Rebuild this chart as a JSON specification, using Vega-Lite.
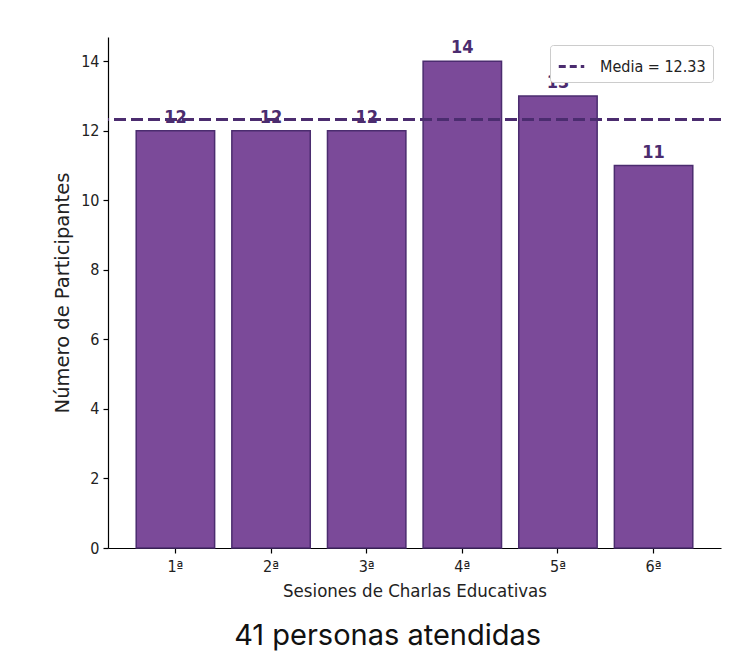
{
  "$schema": "https://vega.github.io/schema/vega-lite/v6.json",
  "width": 613,
  "height": 511,
  "autosize": {"type": "none"},
  "padding": {"left": 108, "top": 37, "right": 19, "bottom": 114},
  "background": "white",
  "title": {
    "text": "41 personas atendidas",
    "orient": "bottom",
    "anchor": "middle",
    "frame": "bounds",
    "font": "Inter",
    "fontSize": 29,
    "fontWeight": "normal",
    "color": "#111111",
    "offset": 22
  },
  "config": {
    "view": {"stroke": null},
    "axis": {
      "domainColor": "#000000",
      "tickColor": "#000000",
      "domainWidth": 1.2,
      "tickWidth": 1.2,
      "tickSize": 5,
      "grid": false,
      "labelFont": "DejaVu Sans Condensed, DejaVu Sans",
      "labelFontSize": 16,
      "labelColor": "#222222",
      "titleFont": "DejaVu Sans Condensed, DejaVu Sans",
      "titleFontWeight": "normal",
      "titleColor": "#222222"
    }
  },
  "layer": [
    {
      "data": {
        "values": [
          {"sesion": "1ª", "participantes": 12},
          {"sesion": "2ª", "participantes": 12},
          {"sesion": "3ª", "participantes": 12},
          {"sesion": "4ª", "participantes": 14},
          {"sesion": "5ª", "participantes": 13},
          {"sesion": "6ª", "participantes": 11}
        ]
      },
      "layer": [
        {
          "mark": {"type": "bar", "color": "#7B4A99", "stroke": "#4B2C6F", "strokeWidth": 1.5},
          "encoding": {
            "x": {
              "field": "sesion",
              "type": "nominal",
              "sort": null,
              "scale": {"paddingInner": 0.18, "paddingOuter": 0.295},
              "axis": {"title": "Sesiones de Charlas Educativas", "labelAngle": 0, "labelPadding": 5, "titleFontSize": 18.5, "titlePadding": 7}
            },
            "y": {
              "field": "participantes",
              "type": "quantitative",
              "scale": {"domain": [0, 14.7], "nice": false},
              "axis": {"title": "Número de Participantes", "values": [0, 2, 4, 6, 8, 10, 12, 14], "titleFontSize": 19.5, "titleFont": "DejaVu Sans", "labelPadding": 4, "titlePadding": 8}
            }
          }
        },
        {
          "mark": {"type": "text", "fontWeight": "bold", "fontSize": 18, "color": "#4B2C6F", "baseline": "alphabetic", "dy": -8, "font": "DejaVu Sans Condensed, DejaVu Sans"},
          "encoding": {
            "x": {"field": "sesion", "type": "nominal", "sort": null},
            "y": {"field": "participantes", "type": "quantitative"},
            "text": {"field": "participantes", "type": "quantitative"}
          }
        }
      ]
    },
    {
      "data": {"values": [{"media": 12.33, "etiqueta": "Media = 12.33"}]},
      "mark": {"type": "rule", "strokeDash": [12, 5], "strokeWidth": 3},
      "encoding": {
        "y": {"field": "media", "type": "quantitative"},
        "color": {
          "field": "etiqueta",
          "type": "nominal",
          "scale": {"range": ["#4B2C6F"]},
          "legend": {
            "title": null,
            "orient": "top-right",
            "offset": 8,
            "fillColor": "white",
            "strokeColor": "#cccccc",
            "cornerRadius": 3,
            "padding": 7,
            "symbolType": "stroke",
            "symbolDash": [7, 4],
            "symbolStrokeWidth": 3,
            "symbolSize": 650,
            "labelFont": "DejaVu Sans Condensed, DejaVu Sans",
            "labelFontSize": 16,
            "labelColor": "#222222",
            "labelOffset": 14
          }
        }
      }
    }
  ]
}
